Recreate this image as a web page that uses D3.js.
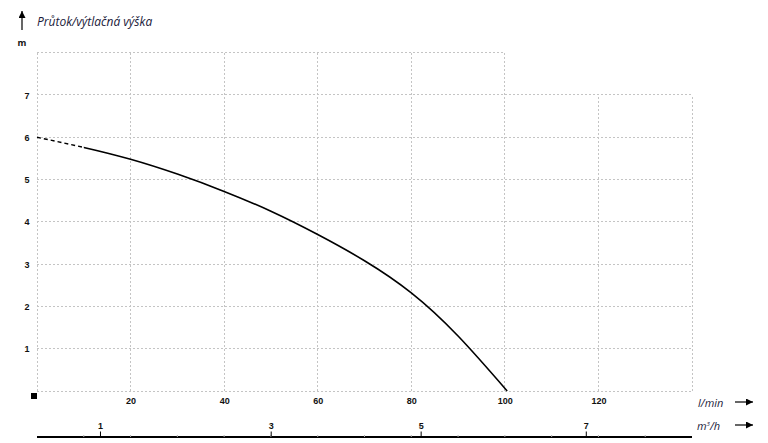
<!DOCTYPE html>
<meta charset="utf-8">
<style>
body { margin: 0; background: #fff; }
svg { font-family: "Open Sans", sans-serif; }
.tick text { font-size: 9px; font-weight: bold; fill: #111; }
.grid line { stroke: #c4c4c4; stroke-width: 1; stroke-dasharray: 2,2; shape-rendering: crispEdges; }
.lbl { font-size: 11px; font-style: italic; fill: #1a1a3a; }
</style>
<body>
<script src="https://d3js.org/d3.v7.min.js"></script>
<script>
// pump curve: flow in l/min, head in m
var flowLmin = [0, 10, 20, 30, 40, 50, 60, 70, 80, 90, 100.5];
var headM    = [6.0, 5.76, 5.48, 5.13, 4.72, 4.25, 3.70, 3.08, 2.32, 1.30, 0];
var dashedUntil = 10; // first part of the curve is dashed

var lminTicks = [20, 40, 60, 80, 100, 120];
var lminGrid = [0, 20, 40, 60, 80, 100, 120, 140];
var headTicks = [1, 2, 3, 4, 5, 6, 7];
var headGrid = [0, 1, 2, 3, 4, 5, 6, 7];
var m3hTicks = [1, 3, 5, 7];
var m3hAtLmin = [13.46, 49.95, 82.0, 117.3]; // where the m3/h ticks sit on the l/min axis

var W = 768, H = 443;
var x = d3.scaleLinear().domain([0, 140]).range([37, 692]);
var y = d3.scaleLinear().domain([0, 8]).range([391, 52.7]);
var xm = d3.scaleLinear().domain(m3hTicks).range(m3hAtLmin.map(x));

var svg = d3.select("body").append("svg")
  .attr("width", W).attr("height", H);

var defs = svg.append("defs");
defs.append("marker").attr("id", "arr")
  .attr("viewBox", "0 0 10 10").attr("refX", 10).attr("refY", 5)
  .attr("markerWidth", 9).attr("markerHeight", 7).attr("markerUnits", "userSpaceOnUse")
  .attr("orient", "auto")
  .append("path").attr("d", "M0,0L10,5L0,10z").attr("fill", "#000");
defs.append("clipPath").attr("id", "clipDash")
  .append("rect").attr("x", 0).attr("y", 0).attr("width", x(dashedUntil)).attr("height", H);
defs.append("clipPath").attr("id", "clipSolid")
  .append("rect").attr("x", x(dashedUntil)).attr("y", 0).attr("width", W).attr("height", H);

// grid
var grid = svg.append("g").attr("class", "grid");
grid.selectAll(".h").data(headGrid).enter().append("line")
  .attr("x1", x(0)).attr("x2", x(140))
  .attr("y1", function(d) { return y(d); }).attr("y2", function(d) { return y(d); });
grid.append("line")
  .attr("x1", x(0)).attr("x2", x(100)).attr("y1", y(8)).attr("y2", y(8));
grid.selectAll(".v").data(lminGrid).enter().append("line")
  .attr("x1", function(d) { return x(d); }).attr("x2", function(d) { return x(d); })
  .attr("y1", y(0))
  .attr("y2", function(d) { return d <= 100 ? y(8) : y(7); });

// y axis labels
svg.append("g")
  .attr("transform", "translate(" + (x(0) - 10) + ",0)")
  .call(d3.axisLeft(y).tickValues(headTicks).tickSize(0).tickPadding(0))
  .call(function(g) { g.select(".domain").remove(); })
  .selectAll("text").attr("text-anchor", "middle").attr("dy", "0.34em");

svg.append("text").attr("x", 22).attr("y", 46)
  .attr("text-anchor", "middle")
  .style("font-size", "9px").style("font-weight", "bold").attr("fill", "#111")
  .text("m");

// title with up arrow
svg.append("line").attr("x1", 22).attr("x2", 22).attr("y1", 30).attr("y2", 11)
  .attr("stroke", "#000").attr("stroke-width", 1.2).attr("marker-end", "url(#arr)");
svg.append("text").attr("class", "lbl").attr("x", 37).attr("y", 26)
  .style("font-size", "12px")
  .text("Průtok/výtlačná výška");

// l/min axis labels
svg.append("g")
  .attr("transform", "translate(0," + (y(0) + 7) + ")")
  .call(d3.axisBottom(x).tickValues(lminTicks).tickSize(0).tickPadding(0))
  .call(function(g) { g.select(".domain").remove(); })
  .selectAll("text").attr("dy", "0.71em");

// small square at the origin
svg.append("rect").attr("x", x(0) - 6).attr("y", y(0) + 2)
  .attr("width", 6).attr("height", 6).attr("fill", "#000");

// m3/h axis
var axY = 437;
svg.append("line").attr("x1", x(0)).attr("x2", x(140))
  .attr("y1", axY).attr("y2", axY)
  .attr("stroke", "#000").attr("stroke-width", 1.8);
svg.selectAll(".minor").data(d3.range(10, 140, 10)).enter().append("line")
  .attr("x1", function(d) { return x(d); }).attr("x2", function(d) { return x(d); })
  .attr("y1", axY - 2).attr("y2", axY)
  .attr("stroke", "#aaa").attr("stroke-width", 1);
svg.append("g")
  .attr("transform", "translate(0," + (axY - 0.5) + ")")
  .call(d3.axisTop(xm).tickValues(m3hTicks).tickSize(5).tickPadding(3).tickFormat(d3.format("d")))
  .call(function(g) { g.select(".domain").remove(); })
  .call(function(g) { g.selectAll(".tick line").attr("stroke", "#000").attr("stroke-width", 1); });

// unit labels with right arrows
svg.append("text").attr("class", "lbl").attr("x", 698).attr("y", 407).text("l/min");
svg.append("line").attr("x1", 735).attr("x2", 753).attr("y1", 402).attr("y2", 402)
  .attr("stroke", "#000").attr("stroke-width", 1.2).attr("marker-end", "url(#arr)");
var m3 = svg.append("text").attr("class", "lbl").attr("x", 697).attr("y", 430);
m3.append("tspan").text("m");
m3.append("tspan").attr("dy", -4).style("font-size", "6px").text("3");
m3.append("tspan").attr("dy", 4).text("/h");
svg.append("line").attr("x1", 735).attr("x2", 753).attr("y1", 425).attr("y2", 425)
  .attr("stroke", "#000").attr("stroke-width", 1.2).attr("marker-end", "url(#arr)");

// pump curve: one smooth path, dashed before dashedUntil and solid after
var pts = flowLmin.map(function(q, i) { return [q, headM[i]]; });
var line = d3.line()
  .x(function(d) { return x(d[0]); })
  .y(function(d) { return y(d[1]); })
  .curve(d3.curveNatural);

svg.append("path")
  .attr("d", line(pts)).attr("clip-path", "url(#clipDash)")
  .attr("fill", "none").attr("stroke", "#000").attr("stroke-width", 1.4)
  .attr("stroke-dasharray", "4,3");
svg.append("path")
  .attr("d", line(pts)).attr("clip-path", "url(#clipSolid)")
  .attr("fill", "none").attr("stroke", "#000").attr("stroke-width", 1.6);
</script>
